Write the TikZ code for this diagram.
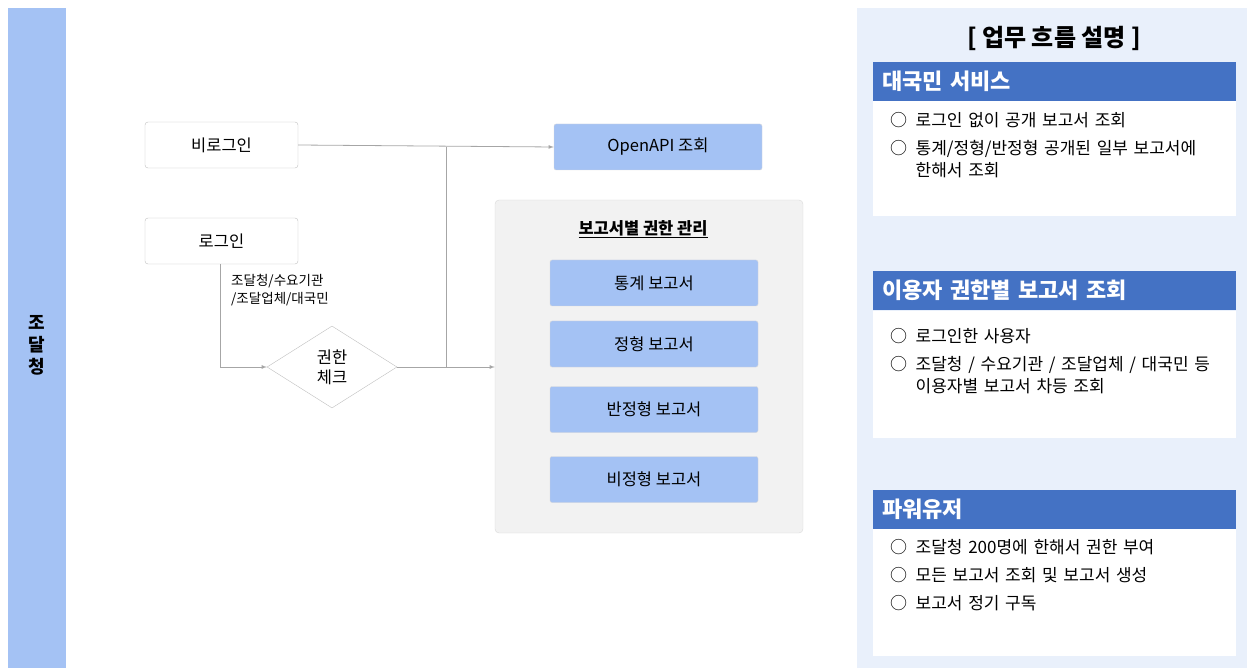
\documentclass[tikz,border=0pt]{standalone}
\usepackage{fontspec}
\setmainfont{Noto Sans CJK KR}
\usetikzlibrary{positioning, shapes.geometric, arrows}
\definecolor{lightblue}{HTML}{A4C2F4}
\definecolor{headblue}{HTML}{4472C4}
\definecolor{panelbg}{HTML}{E9F0FB}
\tikzstyle{plain} = [rectangle, draw=black!25, rounded corners=3pt, fill=white, minimum height=46pt, minimum width=153pt, font=\fontsize{16.5}{18}\selectfont]
\tikzstyle{report} = [rectangle, draw=black!15, rounded corners=2pt, fill=lightblue, minimum height=46pt, minimum width=208pt, font=\fontsize{16.5}{18}\selectfont]
\tikzstyle{check} = [diamond, draw=black!25, fill=white, aspect=1.6, minimum width=130pt, minimum height=82pt, inner sep=0pt, align=center, font=\fontsize{16.5}{20}\selectfont]
\tikzstyle{head} = [rectangle, fill=headblue, text=white, minimum width=363pt, minimum height=39pt, anchor=north west, text width=345pt, font=\bfseries\fontsize{22}{26}\selectfont]
\tikzstyle{body} = [rectangle, fill=white, minimum width=363pt, anchor=north west]
\tikzstyle{item} = [anchor=north west, align=left, text width=345pt, font=\fontsize{17}{28}\selectfont, inner sep=0pt]
\tikzstyle{arrow} = [draw=black!35, ->, >=latex, thick]
\begin{document}
\begin{tikzpicture}[x=1pt, y=-1pt]
    \useasboundingbox (0,0) rectangle (1254,671);

    % Left bar
    \fill [lightblue] (8,8) rectangle (66,668);
    \node [align=center, font=\bfseries\fontsize{18}{22}\selectfont] (org) at (37,345) {조\\달\\청};

    % Nodes
    \node [plain] (nologin) at (221.5,145) {비로그인};
    \node [plain] (login) at (221.5,241) {로그인};
    \node [anchor=north west, align=left, inner sep=0pt, font=\fontsize{13.5}{18}\selectfont] (users) at (231,274) {조달청/수요기관\\/조달업체/대국민};
    \node [check] (auth) at (332,367) {권한\\체크};
    \node [report] (openapi) at (658,147) {OpenAPI 조회};
    \node [rectangle, draw=black!15, fill=black!5, rounded corners=4pt, minimum width=308pt, minimum height=333pt] (panel) at (649,366.5) {};
    \node [font=\bfseries\fontsize{16.5}{18}\selectfont] (ptitle) at (643,229) {\underline{보고서별 권한 관리}};
    \node [report] (stat) at (654,283) {통계 보고서};
    \node [report] (fixed) at (654,344) {정형 보고서};
    \node [report] (semi) at (654,409.5) {반정형 보고서};
    \node [report] (free) at (654,479.5) {비정형 보고서};
    \coordinate (split) at (446,367);

    % Arrows
    \draw [arrow] (nologin.east) -- (openapi.west);
    \draw [arrow] (login.south -| 220,0) |- (auth.west);
    \draw [arrow] (auth.east) -- (panel.west |- auth.east);
    \draw [draw=black!35, thick] (split) |- (446,147);

    % Right panel
    \fill [panelbg] (857,8) rectangle (1247,668);
    \node [font=\bfseries\fontsize{24}{28}\selectfont] (rtitle) at (1054,38) {[ 업무 흐름 설명 ]};

    \node [body, minimum height=115pt] (b1) at (873,101) {};
    \node [head] (h1) at (873,62) {대국민 서비스};
    \node [item] (i1) at (890,112) {○\hspace{0.5em}로그인 없이 공개 보고서 조회\\○\hspace{0.5em}통계/정형/반정형 공개된 일부 보고서에\\[-6pt]\hspace{1.5em}한해서 조회};

    \node [body, minimum height=127pt] (b2) at (873,311) {};
    \node [head] (h2) at (873,271) {이용자 권한별 보고서 조회};
    \node [item] (i2) at (890,328) {○\hspace{0.5em}로그인한 사용자\\○\hspace{0.5em}조달청 / 수요기관 / 조달업체 / 대국민 등\\[-6pt]\hspace{1.5em}이용자별 보고서 차등 조회};

    \node [body, minimum height=128pt] (b3) at (873,528) {};
    \node [head] (h3) at (873,490) {파워유저};
    \node [item] (i3) at (890,539) {○\hspace{0.5em}조달청 200명에 한해서 권한 부여\\○\hspace{0.5em}모든 보고서 조회 및 보고서 생성\\○\hspace{0.5em}보고서 정기 구독};

\end{tikzpicture}
\end{document}
